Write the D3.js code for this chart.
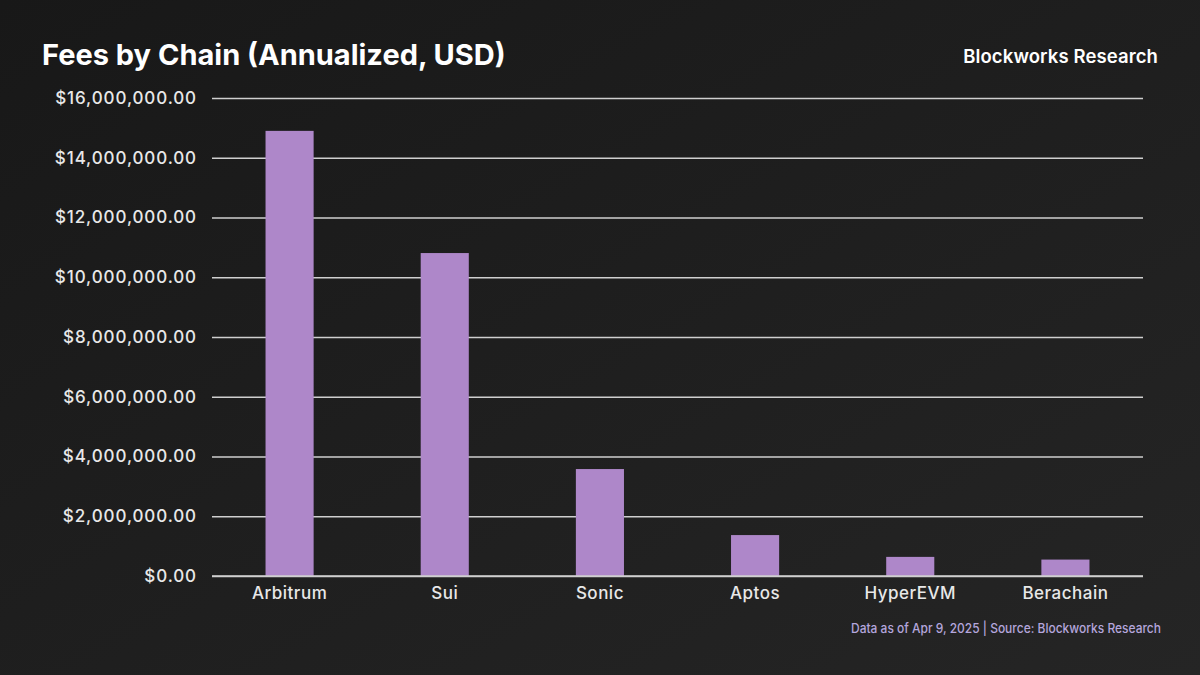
<!DOCTYPE html>
<html><head><meta charset="utf-8">
<script src="https://cdn.jsdelivr.net/npm/d3@7"></script>
<style>html,body{margin:0;padding:0;background:#1c1c1c;}svg{display:block;}</style>
</head><body>
<script>
const categories = ["Arbitrum","Sui","Sonic","Aptos","HyperEVM","Berachain"];
const fees = [14900000, 10810000, 3580000, 1370000, 640000, 550000];
const yTicks = [0,2000000,4000000,6000000,8000000,10000000,12000000,14000000,16000000];

const W=1200,H=675;
const svg=d3.select("body").append("svg").attr("width",W).attr("height",H);
const defs=svg.append("defs");
const g=defs.append("linearGradient").attr("id","bg").attr("x1","0").attr("y1","0").attr("x2","1").attr("y2","1");
g.append("stop").attr("offset","0").attr("stop-color","#181818");
g.append("stop").attr("offset","1").attr("stop-color","#252525");
svg.append("rect").attr("width",W).attr("height",H).attr("fill","url(#bg)");

const x=d3.scaleBand().domain(categories).range([212,1143]).paddingInner(0.69).paddingOuter(0.345);
const y=d3.scaleLinear().domain([0,16000000]).range([576,98]);
const fmt=d=>"$"+d3.format(",.2f")(d);
const font="Inter, 'Noto Sans', sans-serif";

const yAxis=svg.append("g").attr("transform","translate(212,0)")
  .call(d3.axisLeft(y).tickValues(yTicks).tickFormat(fmt).tickSize(-931).tickPadding(15));
yAxis.select(".domain").remove();
yAxis.selectAll("line").attr("stroke","#cfcfcf").attr("stroke-width",1.6);
yAxis.selectAll("text").attr("fill","#e8e8e8").style("font-family",font).style("font-size","17px").style("font-weight","500").style("letter-spacing","0.9px");

svg.append("g").selectAll("rect").data(categories).join("rect")
  .attr("x",d=>x(d)).attr("width",x.bandwidth())
  .attr("y",(d,i)=>y(fees[i])).attr("height",(d,i)=>y(0)-y(fees[i]))
  .attr("fill","#ae87c9");

svg.append("line").attr("x1",212).attr("x2",1143).attr("y1",y(0)).attr("y2",y(0)).attr("stroke","#cfcfcf").attr("stroke-width",1.6);

const xAxis=svg.append("g").attr("transform","translate(0,576)")
  .call(d3.axisBottom(x).tickSize(0).tickPadding(11));
xAxis.select(".domain").remove();
xAxis.selectAll("text").attr("fill","#e8e8e8").style("font-family",font).style("font-size","17px").style("font-weight","500").style("letter-spacing","0.5px");

svg.append("text").attr("x",42).attr("y",65).text("Fees by Chain (Annualized, USD)")
  .attr("fill","#ffffff").style("font-family",font).style("font-size","29px").style("font-weight","700");
svg.append("text").attr("x",1158).attr("y",63).attr("text-anchor","end").text("Blockworks Research")
  .attr("fill","#ffffff").style("font-family",font).style("font-size","18.5px").style("font-weight","600").style("letter-spacing","0.1px");
svg.append("text").attr("x",1161).attr("y",633).attr("text-anchor","end").text("Data as of Apr 9, 2025 | Source: Blockworks Research")
  .attr("textLength",310).attr("lengthAdjust","spacingAndGlyphs")
  .attr("fill","#b4a6dc").style("font-family",font).style("font-size","13px").style("font-weight","500");
</script>
</body></html>
